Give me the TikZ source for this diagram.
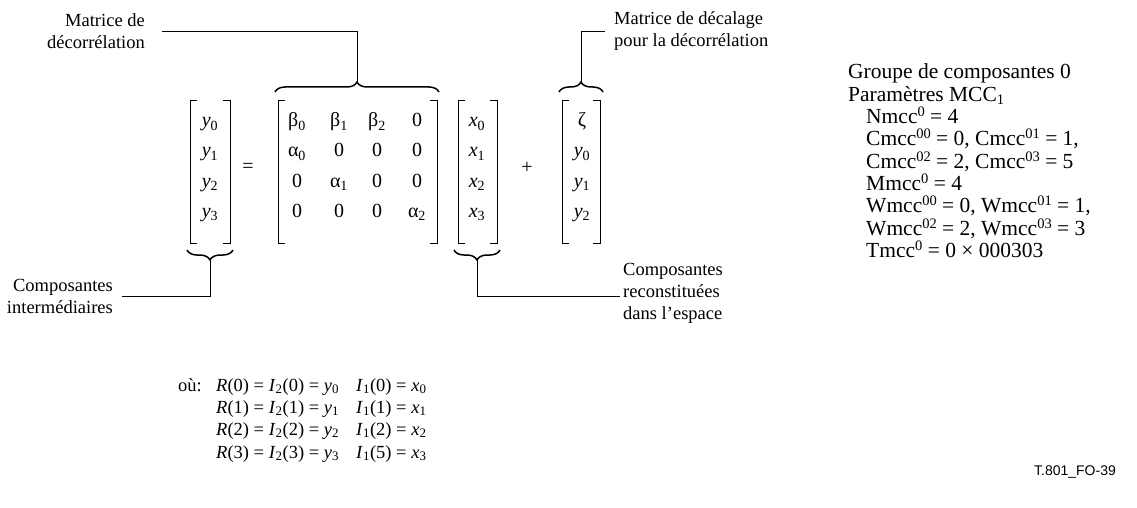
\documentclass[tikz,border=0pt]{standalone}
\usepackage{fontspec}
\setmainfont{Liberation Serif}
\newfontfamily\sansf{Liberation Sans}
\usetikzlibrary{decorations.pathreplacing,calc}
\newcommand{\psup}[1]{\raisebox{7pt}{\fontsize{14.5}{14}\selectfont #1}}
\newcommand{\psub}[1]{\raisebox{-3pt}{\fontsize{14.5}{14}\selectfont #1}}
\begin{document}
\begin{tikzpicture}[x=1pt,y=-1pt,
  txt/.style={font=\fontsize{18.5}{22}\selectfont, inner sep=0pt},
  ent/.style={font=\fontsize{20}{22}\selectfont, inner sep=0pt, anchor=base},
  lbl/.style={txt, align=left, anchor=base west},
  par/.style={font=\fontsize{21.5}{22}\selectfont, inner sep=0pt, anchor=base west},
  brk/.style={line width=0.9pt},
  brc/.style={decorate, decoration={brace, amplitude=10pt}, line width=1.5pt},
  conn/.style={line width=0.8pt}]
\useasboundingbox (0,0) rectangle (1137,508);

% ---- brackets of the four columns
\foreach \l/\r in {190/230, 278/437, 458/497, 562/600}{
  \draw[brk] (\l+7,100) -- (\l,100) -- (\l,243) -- (\l+7,243);
  \draw[brk] (\r-7,100) -- (\r,100) -- (\r,243) -- (\r-7,243);
}

% ---- vectors y and x
\foreach \i in {0,1,2,3}{
  \node[ent] (y\i) at (210,{127+30*\i}) {\textit{y}\textsubscript{\i}};
  \node[ent] (x\i) at (477,{127+30*\i}) {\textit{x}\textsubscript{\i}};
}
\node[ent, anchor=center] (eq) at (248,168) {=};
\node[ent, anchor=center] (plus) at (527,168) {+};

% ---- matrix
\node[ent] (m00) at (297,127) {β\textsubscript{0}};
\node[ent] (m01) at (339,127) {β\textsubscript{1}};
\node[ent] (m02) at (377,127) {β\textsubscript{2}};
\node[ent] (m03) at (417,127) {0};
\node[ent] (m10) at (297,157) {α\textsubscript{0}};
\node[ent] (m11) at (339,157) {0};
\node[ent] (m12) at (377,157) {0};
\node[ent] (m13) at (417,157) {0};
\node[ent] (m20) at (297,187) {0};
\node[ent] (m21) at (339,187) {α\textsubscript{1}};
\node[ent] (m22) at (377,187) {0};
\node[ent] (m23) at (417,187) {0};
\node[ent] (m30) at (297,217) {0};
\node[ent] (m31) at (339,217) {0};
\node[ent] (m32) at (377,217) {0};
\node[ent] (m33) at (417,217) {α\textsubscript{2}};

% ---- offset vector
\node[ent] (z0) at (582,127) {ζ};
\node[ent] (z1) at (582,157) {\textit{y}\textsubscript{0}};
\node[ent] (z2) at (582,187) {\textit{y}\textsubscript{1}};
\node[ent] (z3) at (582,217) {\textit{y}\textsubscript{2}};

% ---- braces
\draw[brc] (275,92) -- (439,92);
\coordinate (tipM) at (357,82);
\draw[brc] (559,92) -- (603,92);
\coordinate (tipZ) at (581,82);
\draw[brc] (233,250) -- (187,250);
\coordinate (tipY) at (210,260);
\draw[brc] (500,250) -- (454,250);
\coordinate (tipX) at (477,260);

% ---- labels
\node[txt, align=right, anchor=east] (lM) at (145,31) {Matrice de\\décorrélation};
\node[txt, align=left, anchor=west] (lZ) at (614,31) {Matrice de décalage\\pour la décorrélation};
\node[txt, align=right, anchor=east] (lY) at (113,296) {Composantes\\intermédiaires};
\node[txt, align=left, anchor=west] (lX) at (623,293) {Composantes\\reconstituées\\dans l'espace};

\draw[conn] (tipM) |- ([xshift=17pt]lM.east);
\draw[conn] (tipZ) |- ([xshift=-9pt]lZ.west);
\draw[conn] (tipY) |- ([xshift=9pt]lY.east |- 0,296);
\draw[conn] (tipX) |- ([xshift=-3pt]lX.west |- 0,296);

% ---- parameter block
\node[par] (p1) at (848,79) {Groupe de composantes 0};
\node[par] (p2) at (848,101.3) {Paramètres MCC\psub{1}};
\node[par] (p3) at (866,123.6) {Nmcc\psup{0} = 4};
\node[par] (p4) at (866,145.9) {Cmcc\psup{00} = 0, Cmcc\psup{01} = 1,};
\node[par] (p5) at (866,168.2) {Cmcc\psup{02} = 2, Cmcc\psup{03} = 5};
\node[par] (p6) at (866,190.5) {Mmcc\psup{0} = 4};
\node[par] (p7) at (866,212.8) {Wmcc\psup{00} = 0, Wmcc\psup{01} = 1,};
\node[par] (p8) at (866,235.1) {Wmcc\psup{02} = 2, Wmcc\psup{03} = 3};
\node[par] (p9) at (866,257.4) {Tmcc\psup{0} = 0 × 000303};

% ---- equations
\node[lbl] (ou) at (178,391) {où:};
\node[lbl] (r0) at (216,391) {\textit{R}(0) = \textit{I}\textsubscript{2}(0) = \textit{y}\textsubscript{0}};
\node[lbl] (r1) at (216,413) {\textit{R}(1) = \textit{I}\textsubscript{2}(1) = \textit{y}\textsubscript{1}};
\node[lbl] (r2) at (216,435) {\textit{R}(2) = \textit{I}\textsubscript{2}(2) = \textit{y}\textsubscript{2}};
\node[lbl] (r3) at (216,458) {\textit{R}(3) = \textit{I}\textsubscript{2}(3) = \textit{y}\textsubscript{3}};
\node[lbl] (i0) at (356,391) {\textit{I}\textsubscript{1}(0) = \textit{x}\textsubscript{0}};
\node[lbl] (i1) at (356,413) {\textit{I}\textsubscript{1}(1) = \textit{x}\textsubscript{1}};
\node[lbl] (i2) at (356,435) {\textit{I}\textsubscript{1}(2) = \textit{x}\textsubscript{2}};
\node[lbl] (i3) at (356,458) {\textit{I}\textsubscript{1}(5) = \textit{x}\textsubscript{3}};

\node[inner sep=0pt, anchor=base east, font=\sansf\fontsize{14}{16}\selectfont] (tag) at (1116,475) {T.801\_FO-39};
\end{tikzpicture}
\end{document}
